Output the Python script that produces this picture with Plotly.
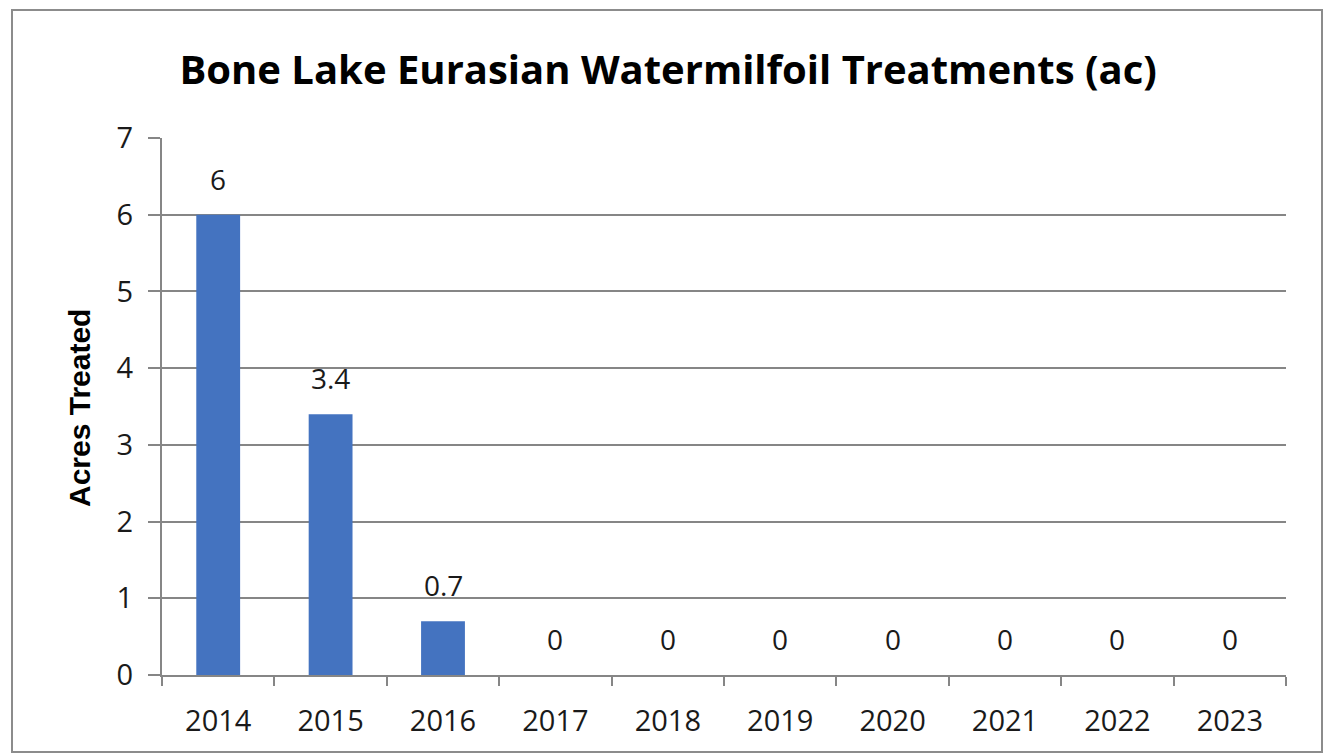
import plotly.graph_objects as go

# Treatment history, acres per year
years = ["2014", "2015", "2016", "2017", "2018", "2019", "2020", "2021", "2022", "2023"]
acres = [6, 3.4, 0.7, 0, 0, 0, 0, 0, 0, 0]
y_ticks = [0, 1, 2, 3, 4, 5, 6, 7]

W, H = 1323, 754
L, R, T, B = 162, 37, 138, 79
plot_w = W - L - R
plot_h = H - T - B

def px_x(px):
    return (px - L) / plot_w

def px_y(py):
    return (H - B - py) / plot_h

BAR = "#4473C0"
GRID = "#868686"
TICK_FONT = dict(family="Open Sans, DejaVu Sans, sans-serif", size=29, color="#1a1a1a")
LABEL_FONT = dict(family="Open Sans, DejaVu Sans, sans-serif", size=28, color="#1a1a1a")

fig = go.Figure()
fig.add_trace(go.Bar(
    x=years, y=acres,
    marker=dict(color=BAR, line=dict(width=0)),
    hoverinfo="x+y",
))

# value labels above each bar (category index positions)
for i, v in enumerate(acres):
    fig.add_annotation(
        x=i, y=v, xref="x", yref="y",
        text=f"{v:g}", showarrow=False,
        yanchor="bottom", yshift=15,
        font=LABEL_FONT,
    )

# y-axis title
fig.add_annotation(
    xref="paper", yref="paper",
    x=px_x(79), y=px_y(408),
    text="<b>Acres Treated</b>", textangle=-90, showarrow=False,
    xanchor="center", yanchor="middle",
    font=dict(family="Liberation Sans Narrow, Arial Narrow, Liberation Sans, Arial, sans-serif",
              size=30, color="#000000"),
)

# chart frame
fig.add_shape(
    type="rect", xref="paper", yref="paper",
    x0=px_x(12), x1=px_x(1322), y0=px_y(752), y1=px_y(10),
    line=dict(color="#8c8c8c", width=2), fillcolor="rgba(0,0,0,0)", layer="below",
)

fig.update_layout(
    width=W, height=H,
    margin=dict(l=L, r=R, t=T, b=B, autoexpand=False),
    paper_bgcolor="white", plot_bgcolor="white",
    bargap=0.61,
    showlegend=False,
    title=dict(
        text="<b>Bone Lake Eurasian Watermilfoil Treatments (ac)</b>",
        x=0.505, xanchor="center",
        y=1 - 70 / H, yanchor="middle", yref="container",
        font=dict(family="Open Sans, DejaVu Sans, sans-serif", size=40, color="#000000"),
    ),
    xaxis=dict(
        type="category",
        categoryorder="array", categoryarray=years,
        range=[-0.5, len(years) - 0.5],
        tickson="boundaries",
        ticks="outside", ticklen=9, tickwidth=2, tickcolor=GRID,
        showline=True, linecolor=GRID, linewidth=2,
        showgrid=False,
        tickfont=TICK_FONT,
        tickangle=0,
        ticklabelstandoff=19,
    ),
    yaxis=dict(
        range=[0, 7],
        tickvals=y_ticks,
        ticks="outside", ticklen=12, tickwidth=2, tickcolor=GRID,
        showline=True, linecolor=GRID, linewidth=2,
        showgrid=True, gridcolor=GRID, gridwidth=2,
        zeroline=False,
        tickfont=TICK_FONT,
        ticklabelstandoff=9,
    ),
)

fig.write_html("out.html")
